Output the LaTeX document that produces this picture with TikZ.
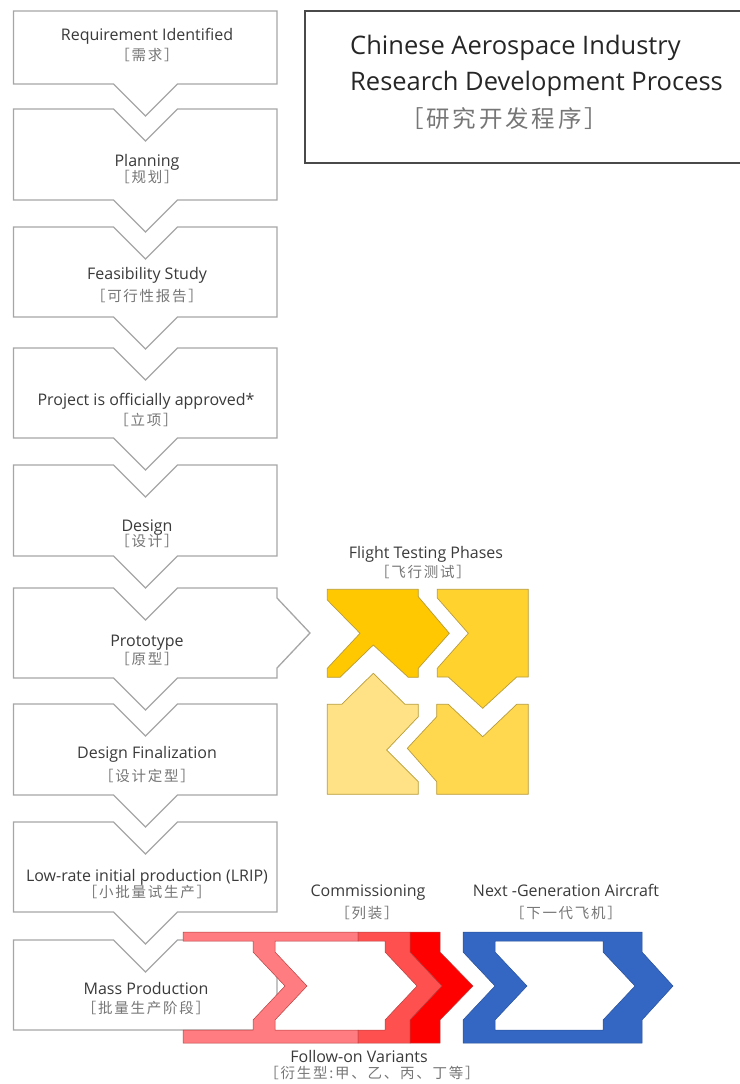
\documentclass[tikz,border=0pt]{standalone}
\usepackage{fontspec}
\setmainfont{Open Sans}
\newfontfamily\cjk[LetterSpace=12]{Noto Sans CJK SC}
\definecolor{boxgray}{HTML}{A6A6A6}
\definecolor{textdark}{HTML}{3A3A3A}
\definecolor{textgray}{HTML}{767676}
\definecolor{titleline}{HTML}{4A4A4A}
\definecolor{yA}{HTML}{FFC800}
\definecolor{yB}{HTML}{FFD22E}
\definecolor{yC}{HTML}{FFD84F}
\definecolor{yD}{HTML}{FFE285}
\definecolor{yedge}{HTML}{B89C3A}
\definecolor{rA}{HTML}{FF7C80}
\definecolor{rB}{HTML}{FF5050}
\definecolor{rC}{HTML}{FF0000}
\definecolor{redge}{HTML}{B84040}
\definecolor{blueF}{HTML}{3467C4}
\definecolor{blueE}{HTML}{27509A}
\newcommand\boxfirst[2]{\draw[boxline] (13.5,#1) -- (277,#1) -- (277,#2) -- (177.5,#2) -- (145.5,{#2+32}) -- (113.5,#2) -- (13.5,#2) -- cycle;}
\newcommand\boxmid[2]{\draw[boxline] (13.5,#1) -- (113.5,#1) -- (145.5,{#1+32}) -- (177.5,#1) -- (277,#1) -- (277,#2) -- (177.5,#2) -- (145.5,{#2+32}) -- (113.5,#2) -- (13.5,#2) -- cycle;}
\begin{document}
\begin{tikzpicture}[x=1pt,y=-1pt,
  boxline/.style={draw=boxgray, line width=1.3pt, fill=white, line join=miter},
  en/.style={text=textdark, font=\fontsize{16}{19}\selectfont, inner sep=0pt, anchor=base},
  cn/.style={text=textgray, font=\cjk\fontsize{14.5}{17}\selectfont, inner sep=0pt, anchor=base},
  yshape/.style={draw=yedge, line width=0.7pt, line join=miter},
  rshape/.style={draw=redge, line width=0.5pt, line join=miter},
]
\useasboundingbox (0,0) rectangle (739,1084);

% title box
\draw[titleline, line width=2pt] (760,11) -- (304.5,11) -- (304.5,163) -- (760,163);
\node[anchor=base west, inner sep=0pt, text=black!85, font=\fontsize{25.5}{30}\selectfont] (title1) at (350,54) {Chinese Aerospace Industry};
\node[anchor=base west, inner sep=0pt, text=black!85, font=\fontsize{25.5}{30}\selectfont] (title2) at (350,90) {Research Development Process};
\node[anchor=base west, inner sep=0pt, text=textgray, font=\cjk\fontsize{23.5}{28}\selectfont] (title3) at (400,127) {［研究开发程序］};

% left column
\boxfirst{11}{84}
\boxmid{109}{200}
\boxmid{227}{317}
\boxmid{348}{438}
\boxmid{465}{556}
\draw[boxline] (13.5,588) -- (113.5,588) -- (145.5,620) -- (177.5,588) -- (277,588) -- (277,598) -- (310,633) -- (277,668) -- (277,678) -- (177.5,678) -- (145.5,710) -- (113.5,678) -- (13.5,678) -- cycle;
\boxmid{704}{795}
\boxmid{822}{912}
\draw[boxline] (13.5,940) -- (113.5,940) -- (145.5,972) -- (177.5,940) -- (277,940) -- (277,1030) -- (13.5,1030) -- cycle;

\node[en] (e1) at (147,40) {Requirement Identified};
\node[cn] (c1) at (147,60.5) {［需求］};
\node[en] (e2) at (147,166) {Planning};
\node[cn] (c2) at (147,182.5) {［规划］};
\node[en] (e3) at (147,279) {Feasibility Study};
\node[cn] (c3) at (147,301.5) {［可行性报告］};
\node[en] (e4) at (146,405) {Project is officially approved*};
\node[cn] (c4) at (146,425.5) {［立项］};
\node[en] (e5) at (147,531) {Design};
\node[cn] (c5) at (147,546.5) {［设计］};
\node[en] (e6) at (147,646) {Prototype};
\node[cn] (c6) at (147,664.5) {［原型］};
\node[en] (e7) at (147,758) {Design Finalization};
\node[cn] (c7) at (147,781.5) {［设计定型］};
\node[en] (e8) at (147,881) {Low-rate initial production (LRIP)};
\node[cn] (c8) at (147,897.5) {［小批量试生产］};
\node[en] (e9) at (146,994) {Mass Production};
\node[cn] (c9) at (146,1013.5) {［批量生产阶段］};

% flight testing phases
\node[en] (fl) at (426,558) {Flight Testing Phases};
\node[cn] (flc) at (423,577.5) {［飞行测试］};
\filldraw[yshape, fill=yA] (327.3,589.3) -- (418.3,589.3) -- (418.3,596.7) -- (449.3,633.3) -- (418.3,668.3) -- (418.3,677.3) -- (408.3,677.3) -- (373.3,645) -- (340,677.3) -- (327.3,677.3) -- (327.3,668.3) -- (360,633.3) -- (327.3,600) -- cycle;
\filldraw[yshape, fill=yB] (437.3,589.3) -- (528.3,589.3) -- (528.3,677) -- (516.7,677) -- (482.7,708.3) -- (448.3,677) -- (437.3,677) -- (437.3,668.3) -- (468.3,633.3) -- (437.3,598) -- cycle;
\filldraw[yshape, fill=yD] (373.3,673.3) -- (405,704.3) -- (418.3,704.3) -- (418.3,716.7) -- (386.7,750) -- (418.3,781.7) -- (418.3,794.3) -- (327.3,794.3) -- (327.3,704.3) -- (341.7,704.3) -- cycle;
\filldraw[yshape, fill=yC] (436.7,704.3) -- (448.3,704.3) -- (482.7,736.7) -- (516.7,704.3) -- (528.3,704.3) -- (528.3,794.3) -- (436.7,794.3) -- (436.7,781.7) -- (407.3,748.3) -- (436.7,716.7) -- cycle;

% red follow-on variants
\fill[white] (275,941) -- (385,941) -- (385,952) -- (417,986) -- (385,1020) -- (385,1030) -- (275,1030) -- (275,1020) -- (307,986) -- (275,952) -- cycle;
\filldraw[rshape, fill=rA] (183,932) -- (358,932) -- (358,941) -- (275,941) -- (275,952) -- (307,986) -- (275,1020) -- (275,1030) -- (358,1030) -- (358,1043) -- (183,1043) -- (183,1030) -- (253,1030) -- (253,1020) -- (285,986) -- (253,952) -- (253,941) -- (183,941) -- cycle;
\filldraw[rshape, fill=rB] (358,932) -- (410,932) -- (410,952) -- (442,986) -- (410,1020) -- (410,1043) -- (358,1043) -- (358,1030) -- (385,1030) -- (385,1020) -- (417,986) -- (385,952) -- (385,941) -- (358,941) -- cycle;
\filldraw[rshape, fill=rC] (410,932) -- (440,932) -- (440,952) -- (473,986) -- (440,1020) -- (440,1043) -- (410,1043) -- (410,1020) -- (442,986) -- (410,952) -- cycle;

% blue next generation
\filldraw[draw=blueE, line width=0.5pt, fill=blueF, even odd rule, line join=miter]
  (463,932) -- (642,932) -- (642,952) -- (673,986) -- (642,1020) -- (642,1043) -- (463,1043) -- (463,1020) -- (495,986) -- (463,952) -- cycle
  (495,941) -- (603,941) -- (603,952) -- (635,986) -- (603,1020) -- (603,1030) -- (495,1030) -- (495,1020) -- (527,986) -- (495,952) -- cycle;

\node[en] (com) at (368,896) {Commissioning};
\node[cn] (comc) at (367,918.5) {［列装］};
\node[en] (ng) at (566,896) {Next -Generation Aircraft};
\node[cn] (ngc) at (566,918.5) {［下一代飞机］};
\node[en] (fo) at (359,1062) {Follow-on Variants};
\node[cn] (foc) at (372,1078.5) {［衍生型:甲、乙、丙、丁等］};
\end{tikzpicture}
\end{document}
